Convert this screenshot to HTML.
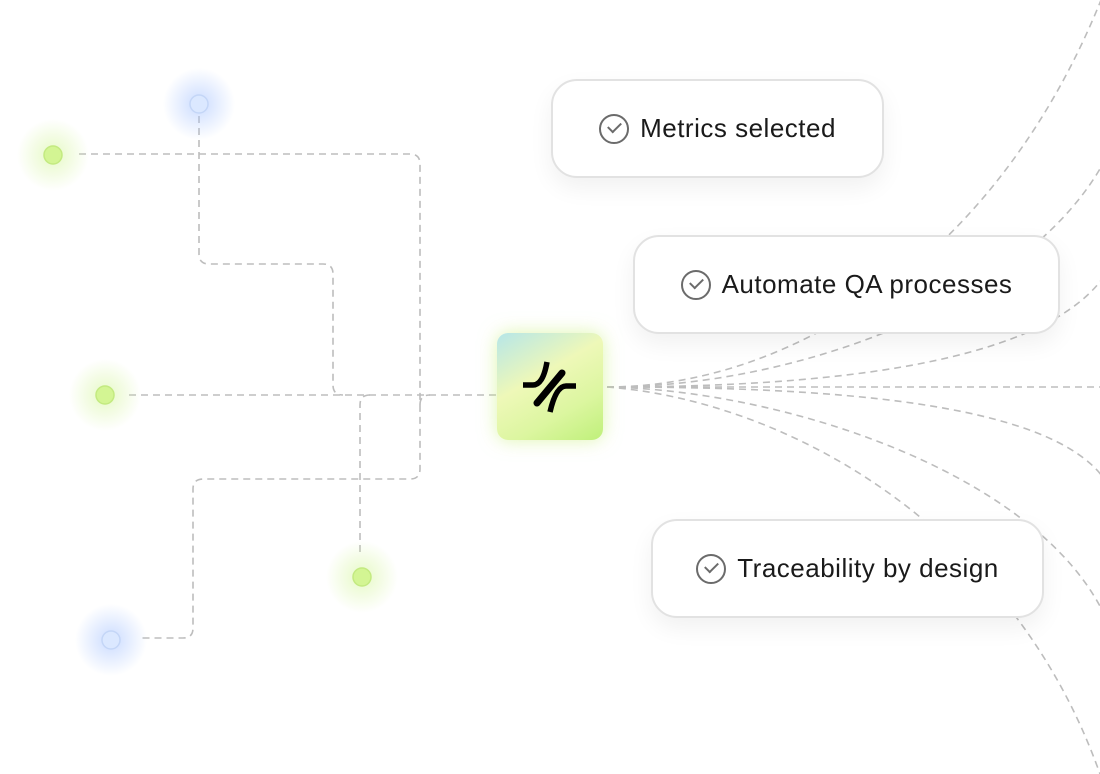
<!DOCTYPE html>
<html><head><meta charset="utf-8"><style>
body{margin:0;background:#fff;width:1100px;height:774px;overflow:hidden;position:relative;font-family:"Liberation Sans",sans-serif}
svg{position:absolute;left:0;top:0}
.card{position:absolute;background:#fff;border:2px solid #e2e2e2;border-radius:26px;box-sizing:border-box;display:flex;align-items:center;justify-content:center;font-size:26px;letter-spacing:0.5px;color:#1a1a1a;box-shadow:0 10px 24px rgba(0,0,0,0.06)}
.chk{width:30px;height:30px;border:2.5px solid #6b6b6b;border-radius:50%;box-sizing:border-box;margin-right:11px;position:relative}
.chk:after{content:"";position:absolute;left:7px;top:6px;width:11px;height:6px;border-left:2.5px solid #6b6b6b;border-bottom:2.5px solid #6b6b6b;transform:rotate(-45deg)}
.box{position:absolute;left:497px;top:333px;width:106px;height:107px;border-radius:11px;background:linear-gradient(150deg,#b6e6e8 0%,#eef8b8 40%,#dcf6a0 70%,#bff07a 100%);box-shadow:0 0 18px rgba(200,240,120,0.6)}
</style></head><body>
<svg width="1100" height="774">
<defs>
<radialGradient id="gg"><stop offset="0" stop-color="#d6f5a0" stop-opacity="0.6"/><stop offset="1" stop-color="#d6f5a0" stop-opacity="0"/></radialGradient>
<radialGradient id="bg"><stop offset="0" stop-color="#a8c4ff" stop-opacity="0.6"/><stop offset="1" stop-color="#a8c4ff" stop-opacity="0"/></radialGradient>
</defs>
<g fill="none" stroke="#bdbdbd" stroke-width="1.6" stroke-dasharray="7 5">
<path d="M79 154 H410 Q420 154 420 164 V469 Q420 479 410 479 H203 Q193 479 193 489 V628 Q193 638 183 638 H142"/>
<path d="M199 116 V254 Q199 264 209 264 H323 Q333 264 333 274 V385 Q333 395 343 395"/>
<path d="M129 395 H497"/>
<path d="M360 552 V405 Q360 395 370 395"/>
<path d="M420 405 Q420 395 430 395"/>
<path d="M607 387 H1100"/>
<path d="M607 387 C790 387 1000 260 1105 -10"/>
<path d="M607 387 C800 387 1030 300 1105 160"/>
<path d="M607 387 C800 387 1040 370 1105 275"/>
<path d="M607 387 C820 387 1050 400 1105 480"/>
<path d="M607 387 C780 390 1030 470 1102 610"/>
<path d="M607 387 C780 400 1010 520 1100 774"/>
</g>
<circle cx="199" cy="104" r="36" fill="url(#bg)"/><circle cx="199" cy="104" r="9" fill="#dbe8ff" stroke="#c4d6f7" stroke-width="1.5"/>
<circle cx="111" cy="640" r="36" fill="url(#bg)"/><circle cx="111" cy="640" r="9" fill="#dbe8ff" stroke="#c4d6f7" stroke-width="1.5"/>
<circle cx="53" cy="155" r="36" fill="url(#gg)"/><circle cx="53" cy="155" r="9" fill="#d3f593" stroke="#c3ea80" stroke-width="1.5"/>
<circle cx="105" cy="395" r="36" fill="url(#gg)"/><circle cx="105" cy="395" r="9" fill="#d3f593" stroke="#c3ea80" stroke-width="1.5"/>
<circle cx="362" cy="577" r="36" fill="url(#gg)"/><circle cx="362" cy="577" r="9" fill="#d3f593" stroke="#c3ea80" stroke-width="1.5"/>
</svg>
<div class="box"><svg width="106" height="107" style="left:0;top:0">
<g transform="translate(-497,-333)" fill="none" stroke="#000" stroke-width="5.5">
<path d="M523 385 H533 Q543 385 547 362"/>
<path d="M576 386 H566 Q556 386 550 412"/>
<path d="M537 403 L562 373" stroke-width="7" stroke-linecap="round"/>
</g></svg></div>
<div class="card" style="left:551px;top:79px;width:333px;height:99px"><span class="chk"></span>Metrics selected</div>
<div class="card" style="left:633px;top:235px;width:427px;height:99px"><span class="chk"></span>Automate QA processes</div>
<div class="card" style="left:651px;top:519px;width:393px;height:99px"><span class="chk"></span>Traceability by design</div>
</body></html>
